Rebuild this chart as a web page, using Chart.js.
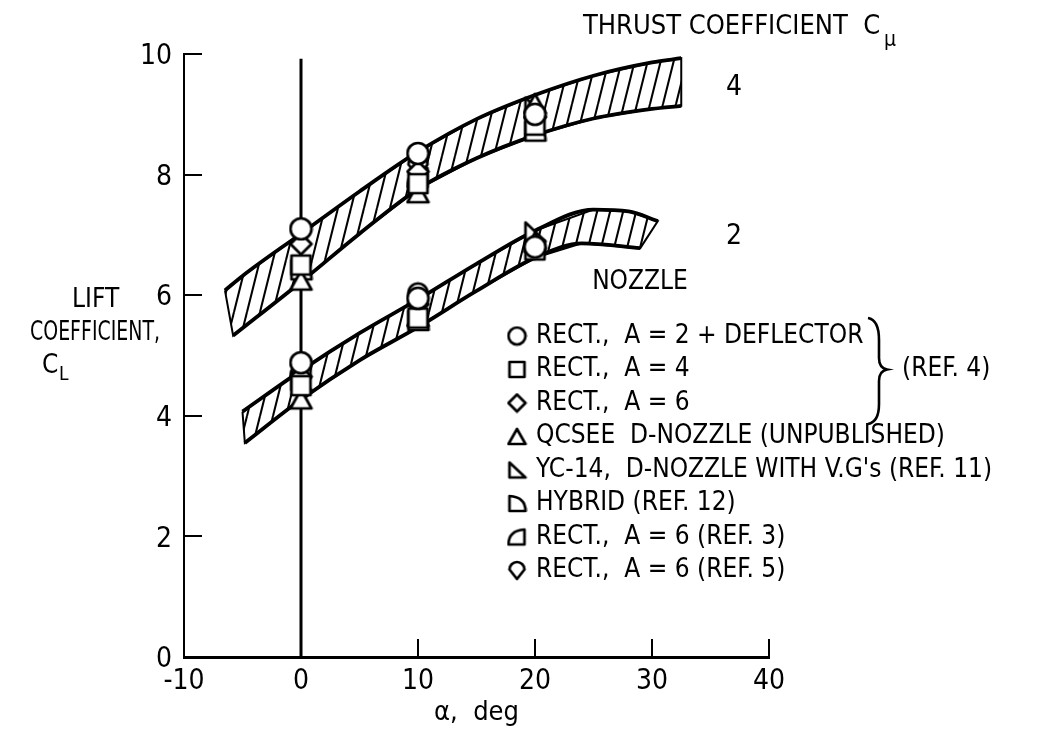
<!DOCTYPE html>
<html>
<head>
<meta charset="utf-8">
<script src="https://cdn.jsdelivr.net/npm/chart.js@4.4.1/dist/chart.umd.min.js"></script>
<style>
  html, body { margin: 0; padding: 0; background: #fff; }
  #wrap { position: relative; width: 1038px; height: 733px; }
</style>
</head>
<body>
<div id="wrap"><canvas id="liftChart"></canvas></div>
<script>
// axis ticks
var alphaTicks = [-10, 0, 10, 20, 30, 40];
var liftTicks = [0, 2, 4, 6, 8, 10];

// thrust coefficient 4 band (upper and lower edge)
var band4UpperX = [-6.5, -5, 0, 5, 10, 15, 20, 25, 30, 32.5];
var band4UpperY = [6.08, 6.32, 7.02, 7.72, 8.38, 8.92, 9.32, 9.64, 9.86, 9.93];
var band4LowerX = [-5.8, 0, 5, 10, 15, 20, 25, 30, 32.5];
var band4LowerY = [5.33, 6.22, 7.02, 7.76, 8.27, 8.65, 8.93, 9.09, 9.14];

// thrust coefficient 2 band
var band2UpperX = [-5, 0, 5, 10, 15, 20, 25, 28, 30.5];
var band2UpperY = [4.07, 4.75, 5.37, 5.93, 6.52, 7.07, 7.42, 7.39, 7.23];
var band2LowerX = [-4.8, 0, 5, 10, 15, 20, 24, 29];
var band2LowerY = [3.55, 4.27, 4.92, 5.47, 6.07, 6.62, 6.86, 6.78];

// vertical reference line at alpha = 0
var zeroLineY = [0, 9.92];

// test points, one pair of arrays per nozzle
var rectDeflX = [0, 10, 20, 0, 10, 20];
var rectDeflY = [7.1, 8.35, 9.0, 4.88, 5.95, 6.8];
var rect4X = [0, 10, 20, 0, 10, 20];
var rect4Y = [6.5, 7.85, 8.82, 4.5, 5.62, 6.75];
var rect6X = [0, 10, 20, 0, 10, 20];
var rect6Y = [6.85, 8.05, 8.95, 4.65, 5.85, 6.78];
var qcseeX = [0, 10, 20, 0, 10, 20];
var qcseeY = [6.25, 7.7, 9.18, 4.28, 5.65, 6.88];
var yc14X = [20, 0, 20];
var yc14Y = [9.12, 4.58, 7.05];
var hybridX = [0, 20, 10];
var hybridY = [6.42, 8.72, 5.58];
var ref3X = [10, 0];
var ref3Y = [7.95, 4.78];
var ref5X = [10, 0, 10];
var ref5Y = [8.15, 4.82, 6.02];

var nozzleLabels = [
    'RECT.,  A = 2 + DEFLECTOR',
    'RECT.,  A = 4',
    'RECT.,  A = 6',
    'QCSEE  D-NOZZLE (UNPUBLISHED)',
    "YC-14,  D-NOZZLE WITH V.G's (REF. 11)",
    'HYBRID (REF. 12)',
    'RECT.,  A = 6 (REF. 3)',
    'RECT.,  A = 6 (REF. 5)'
];

var FONT = '"DejaVu Sans Condensed", "Liberation Sans Narrow", sans-serif';

function pts(xs, ys) {
    return xs.map(function (x, i) { return {x: x, y: ys[i]}; });
}

// closed outline: upper edge forward, lower edge back, back to start
function outline(ux, uy, lx, ly) {
    var p = pts(ux, uy).concat(pts(lx, ly).reverse());
    p.push({x: ux[0], y: uy[0]});
    return p;
}

function hatch() {
    var c = document.createElement('canvas');
    c.width = 13; c.height = 52;
    var g = c.getContext('2d');
    g.strokeStyle = '#000';
    g.lineWidth = 2.1;
    for (var k = -1; k <= 1; k++) {
        g.beginPath();
        g.moveTo(k * 13, 52);
        g.lineTo(k * 13 + 13, 0);
        g.stroke();
    }
    return g.createPattern(c, 'repeat');
}

// marker glyphs
function marker(kind, s) {
    var c = document.createElement('canvas');
    c.width = s; c.height = s;
    var g = c.getContext('2d');
    var m = 2, w = s - 2 * m;
    g.lineWidth = 2.7;
    g.strokeStyle = '#000';
    g.fillStyle = '#fff';
    g.lineJoin = 'round';
    g.beginPath();
    if (kind === 'circle') {
        g.arc(s / 2, s / 2, w / 2, 0, Math.PI * 2);
    } else if (kind === 'square') {
        g.rect(m + 1, m + 1, w - 2, w - 2);
    } else if (kind === 'diamond') {
        g.moveTo(s / 2, m); g.lineTo(s - m, s / 2); g.lineTo(s / 2, s - m); g.lineTo(m, s / 2);
        g.closePath();
    } else if (kind === 'triangle') {
        g.moveTo(s / 2, m + 1); g.lineTo(s - m, s - m - 1); g.lineTo(m, s - m - 1);
        g.closePath();
    } else if (kind === 'yc14') {
        g.moveTo(m + 1, m + 1); g.lineTo(s - m, s - m - 1); g.lineTo(m + 1, s - m - 1);
        g.closePath();
    } else if (kind === 'hybrid') {
        g.moveTo(m + 1, m + 1);
        g.quadraticCurveTo(s - m, m + 2, s - m, s - m - 1);
        g.lineTo(m + 1, s - m - 1);
        g.closePath();
    } else if (kind === 'ref3') {
        g.moveTo(s - m - 1, m + 1);
        g.quadraticCurveTo(m, m + 2, m, s - m - 1);
        g.lineTo(s - m - 1, s - m - 1);
        g.closePath();
    } else if (kind === 'ref5') {
        g.moveTo(s / 2, s - m);
        g.lineTo(m + 1, s / 2 - 1);
        g.arc(s / 2, s / 2 - 1, w / 2 - 1, Math.PI, 0);
        g.closePath();
    }
    g.fill();
    g.stroke();
    return c;
}

var kinds = ['circle', 'square', 'diamond', 'triangle', 'yc14', 'hybrid', 'ref3', 'ref5'];
var seriesX = [rectDeflX, rect4X, rect6X, qcseeX, yc14X, hybridX, ref3X, ref5X];
var seriesY = [rectDeflY, rect4Y, rect6Y, qcseeY, yc14Y, hybridY, ref3Y, ref5Y];
var plotMarks = kinds.map(function (k) { return marker(k, 25); });
var keyMarks = kinds.map(function (k) { return marker(k, 21); });

var datasets = [];
seriesX.forEach(function (xs, i) {
    datasets.push({
        label: nozzleLabels[i],
        data: pts(xs, seriesY[i]),
        pointStyle: plotMarks[i],
        showLine: false
    });
});

[[band4UpperX, band4UpperY], [band4LowerX, band4LowerY],
 [band2UpperX, band2UpperY], [band2LowerX, band2LowerY]].forEach(function (e) {
    datasets.push({
        data: pts(e[0], e[1]),
        showLine: true,
        borderColor: '#000',
        borderWidth: 3.8,
        pointRadius: 0,
        cubicInterpolationMode: 'monotone',
        fill: false
    });
});

datasets.push({
    data: pts([0, 0], zeroLineY),
    showLine: true,
    borderColor: '#000',
    borderWidth: 3,
    pointRadius: 0
});

var pattern = hatch();
[outline(band4UpperX, band4UpperY, band4LowerX, band4LowerY),
 outline(band2UpperX, band2UpperY, band2LowerX, band2LowerY)].forEach(function (p) {
    datasets.push({
        data: p,
        showLine: true,
        borderColor: '#000',
        borderWidth: 2,
        backgroundColor: pattern,
        pointRadius: 0,
        tension: 0,
        fill: 'shape'
    });
});

var annotations = {
    id: 'annotations',
    afterDraw: function (chart) {
        var ctx = chart.ctx;
        ctx.save();
        ctx.fillStyle = '#000';
        ctx.strokeStyle = '#000';
        ctx.textBaseline = 'middle';
        ctx.textAlign = 'left';

        // title
        ctx.font = '27px ' + FONT;
        ctx.fillText('THRUST COEFFICIENT  C', 583, 27, 298);
        ctx.font = '21px ' + FONT;
        ctx.fillText('\u03bc', 884, 41);

        ctx.font = '28px ' + FONT;
        ctx.fillText('4', 726, 88);
        ctx.fillText('2', 726, 237);
        ctx.font = '26px ' + FONT;
        ctx.textAlign = 'center';
        ctx.fillText('NOZZLE', 640, 282);

        // y label
        ctx.textAlign = 'left';
        ctx.fillText('LIFT', 72, 300, 50);
        ctx.fillText('COEFFICIENT,', 30, 333, 130);
        ctx.fillText('C', 42, 366);
        ctx.font = '19px ' + FONT;
        ctx.fillText('L', 59, 375);

        // key
        ctx.font = '26px ' + FONT;
        nozzleLabels.forEach(function (t, i) {
            var y = 336 + i * 33.5;
            ctx.drawImage(keyMarks[i], 517 - 10.5, y - 10.5);
            ctx.fillText(t, 536, y);
        });

        // brace for REF. 4
        ctx.lineWidth = 2.6;
        ctx.beginPath();
        ctx.moveTo(868, 318);
        ctx.quadraticCurveTo(879, 320, 879, 340);
        ctx.lineTo(879, 358);
        ctx.quadraticCurveTo(879, 368, 887, 369.5);
        ctx.quadraticCurveTo(879, 371, 879, 381);
        ctx.lineTo(879, 404);
        ctx.quadraticCurveTo(879, 422, 868, 424);
        ctx.stroke();
        ctx.fillText('(REF. 4)', 902, 369.5);
        ctx.restore();
    }
};

var liftCtx = document.getElementById('liftChart').getContext('2d');
var liftChart = new Chart(liftCtx, {
    type: 'scatter',
    data: { datasets: datasets },
    options: {
        responsive: true,
        maintainAspectRatio: false,
        animation: false,
        layout: { padding: { left: 0, right: 269, top: 54, bottom: 0 } },
        plugins: {
            legend: { display: false },
            tooltip: { enabled: false }
        },
        scales: {
            x: {
                type: 'linear',
                min: alphaTicks[0],
                max: alphaTicks[alphaTicks.length - 1],
                afterBuildTicks: function (s) { s.ticks = alphaTicks.map(function (v) { return {value: v}; }); },
                afterFit: function (s) { s.height = 76; },
                grid: { drawOnChartArea: false, tickLength: -18, color: '#000', lineWidth: 2 },
                border: { display: true, color: '#000', width: 3 },
                ticks: { color: '#000', padding: 26, font: { family: FONT, size: 28 } },
                title: {
                    display: true, text: '\u03b1,  deg', color: '#000',
                    font: { family: FONT, size: 27 }, padding: { top: 0, bottom: 4 }
                }
            },
            y: {
                type: 'linear',
                min: liftTicks[0],
                max: liftTicks[liftTicks.length - 1],
                afterBuildTicks: function (s) { s.ticks = liftTicks.map(function (v) { return {value: v}; }); },
                afterFit: function (s) { s.width = 184; },
                grid: { drawOnChartArea: false, tickLength: -18, color: '#000', lineWidth: 2 },
                border: { display: true, color: '#000', width: 2 },
                ticks: { color: '#000', padding: 30, labelOffset: 3, font: { family: FONT, size: 28 } }
            }
        }
    },
    plugins: [annotations]
});
</script>
</body>
</html>
